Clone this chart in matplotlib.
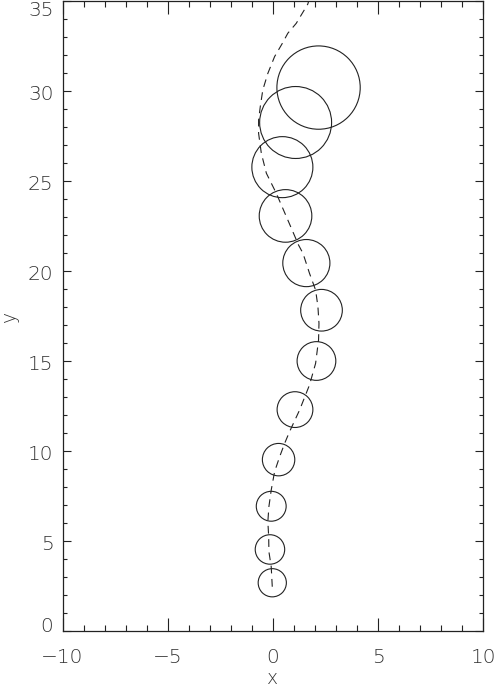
import numpy as np
import matplotlib
matplotlib.use("Agg")
import matplotlib.pyplot as plt
import matplotlib.transforms as mtrans
from matplotlib.ticker import MultipleLocator

# ---- data ----
circle_x = [-0.03, -0.14, -0.08, 0.27, 1.05, 2.07, 2.31, 1.59, 0.60, 0.45, 1.08, 2.17]
circle_y = [2.68, 4.53, 6.93, 9.52, 12.30, 15.00, 17.82, 20.44, 23.06, 25.77, 28.25, 30.19]
circle_r = [0.67, 0.70, 0.71, 0.77, 0.85, 0.92, 0.99, 1.12, 1.25, 1.45, 1.71, 1.98]  # radius in x units

path_x = [-0.03, -0.08, -0.19, -0.20, -0.24, -0.19, -0.08, 0.08, 0.32, 0.56, 0.79, 1.27,
          1.74, 2.03, 2.17, 2.19, 2.14, 2.03, 1.74, 1.43, 1.22, 0.71, 0.16, -0.31, -0.55,
          -0.68, -0.68, -0.60, -0.48, -0.24, 0.08, 0.45, 0.71, 1.11, 1.66, 1.75]
path_y = [2.46, 3.57, 4.41, 5.24, 6.07, 6.91, 7.83, 8.85, 9.68, 10.43, 11.07, 12.28,
          13.67, 14.87, 16.17, 17.09, 18.02, 18.94, 19.87, 20.98, 21.44, 22.83, 24.32, 25.43, 26.54,
          27.65, 28.39, 29.13, 30.06, 30.98, 31.91, 32.65, 33.21, 33.76, 34.83, 35.2]

x_ticks = [-10, -5, 0, 5, 10]
y_ticks = [0, 5, 10, 15, 20, 25, 30, 35]

W, H, DPI = 495, 689, 100
fig = plt.figure(figsize=(W / DPI, H / DPI), dpi=DPI)
ax = fig.add_axes([62.5 / W, (H - 631) / H, (483.3 - 62.5) / W, 630 / H])
ax.set_xlim(-10, 10)
ax.set_ylim(0, 35)

ink = "#222222"
txt = "#333333"
font = dict(family=["DejaVu Sans"], fontsize=14.5, color=txt, fontweight=200)
lfont = dict(family=["DejaVu Sans"], fontsize=13.5, color=txt, fontweight=200)

ax.plot(path_x, path_y, color=ink, lw=0.8, linestyle=(0, (7, 5)), clip_on=True)

# circle sizes: convert x-data radius to points
px_per_unit = (ax.transData.transform((1, 0)) - ax.transData.transform((0, 0)))[0]
sizes = [(2 * r * px_per_unit * 72 / DPI) ** 2 for r in circle_r]
ax.scatter(circle_x, circle_y, s=sizes, facecolors="none", edgecolors=ink, linewidths=0.8)

ax.set_xticks(x_ticks)
ax.set_yticks(y_ticks)
ax.set_xticklabels(["\u2212%d" % -v if v < 0 else "%d" % v for v in x_ticks], **font)
ax.set_yticklabels([str(v) for v in y_ticks], **font)
ax.xaxis.set_minor_locator(MultipleLocator(1))
ax.yaxis.set_minor_locator(MultipleLocator(1))

ax.tick_params(axis="x", which="major", direction="in", length=9.1, width=0.8, top=True, bottom=True, pad=12.5, colors=ink)
ax.tick_params(axis="x", which="minor", direction="in", length=4.5, width=0.8, top=True, bottom=True, colors=ink)
ax.tick_params(axis="y", which="major", direction="in", length=6.1, width=0.8, left=True, right=True, pad=6.5, colors=ink)
ax.tick_params(axis="y", which="minor", direction="in", length=3.0, width=0.8, left=True, right=True, colors=ink)
for lab in ax.get_xticklabels() + ax.get_yticklabels():
    lab.set_color(txt)
ylabs = ax.get_yticklabels()
for i, lab in enumerate(ylabs):
    if i == len(ylabs) - 1:
        dy = -7.0
    elif i == 0:
        dy = 7.0
    else:
        dy = -1.5
    lab.set_transform(lab.get_transform() + mtrans.ScaledTranslation(0, dy / DPI, fig.dpi_scale_trans))
for s in ax.spines.values():
    s.set_linewidth(0.9)
    s.set_color(ink)

ax.set_xlabel("x", labelpad=1.5, **lfont)
ax.set_ylabel("y", labelpad=6.3, **lfont)

fig.savefig("out.png", dpi=DPI)
